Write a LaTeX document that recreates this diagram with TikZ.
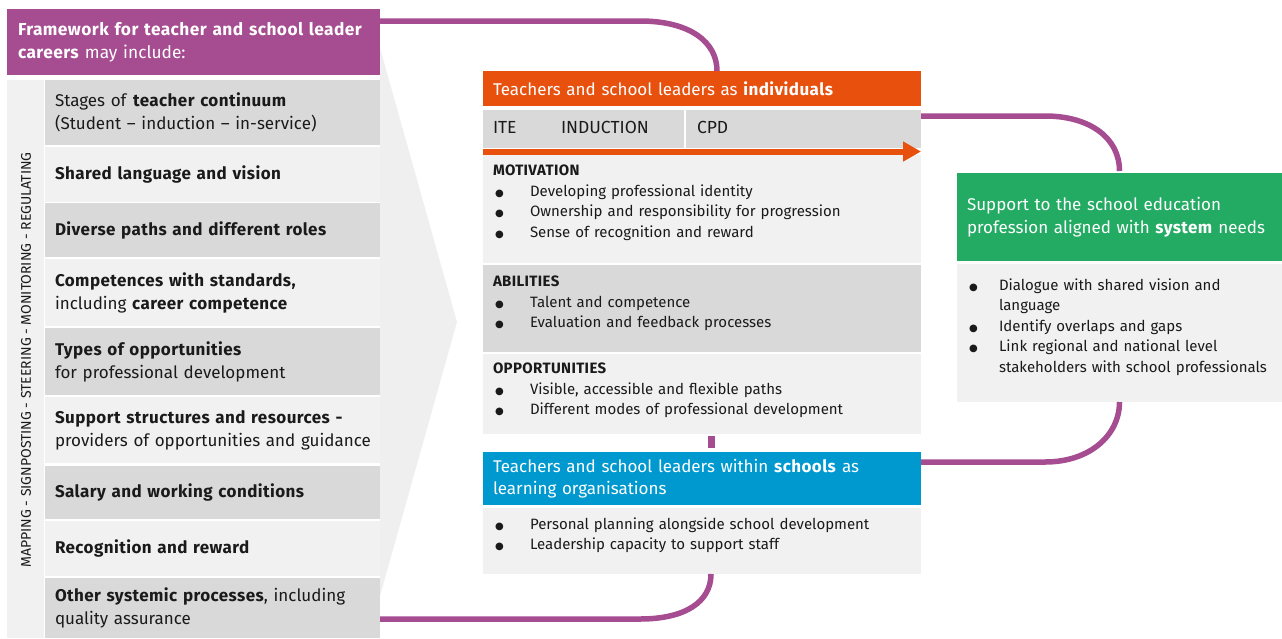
\documentclass[tikz,border=0pt]{standalone}
\usepackage{fontspec}
\setmainfont{Fira Sans}[BoldFeatures={LetterSpace=2.5}]
\newfontfamily\dejavu{DejaVu Sans}
\usetikzlibrary{calc,arrows.meta}
\definecolor{purp}{HTML}{A64C91}
\definecolor{orng}{HTML}{E8500E}
\definecolor{blu}{HTML}{0099CF}
\definecolor{grn}{HTML}{23AB63}
\definecolor{dgray}{HTML}{D9D9D9}
\definecolor{lgray}{HTML}{F1F1F1}
\definecolor{wedge}{HTML}{EFEFEF}
\definecolor{ink}{HTML}{1A1A1A}
\newcommand\fsz[2]{\fontsize{#1}{#2}\selectfont}
\newcommand\bigbul{{\dejavu\fontsize{10}{10}\selectfont ●}}
\newcommand\bul{\makebox[35pt][l]{\bigbul}}
\newcommand\gbul{\makebox[30pt][l]{\bigbul}}
\begin{document}
\begin{tikzpicture}[x=1pt,y=-1pt,
  box/.style={anchor=north west, inner sep=0pt, outer sep=0pt},
  row/.style={box, minimum width=335pt, text width=315pt, inner xsep=10pt, align=left, font=\fsz{17}{23}, text=ink},
  panel/.style={box, minimum width=438pt},
  hdrtext/.style={text width=418pt, inner xsep=10pt, align=left, text=white, font=\fsz{17}{22}},
  txt/.style={anchor=base west, inner sep=0pt, outer sep=0pt, text width=420pt, align=left, text=ink, font=\fsz{15}{20.5}},
  ttl/.style={txt, font=\fsz{15}{20.5}\bfseries},
  conn/.style={draw=purp, line width=5.5pt}]
\useasboundingbox (0,0) rectangle (1282,638);

% background wedge and label column
\fill[wedge] (380,48) -- (457,322) -- (380,596) -- cycle;
\fill[lgray] (7,80) rectangle (44,638);
\node[rotate=90, inner sep=0pt, font=\fsz{14}{16}, text=ink] (vlab) at (26,360) {MAPPING - SIGNPOSTING - STEERING - MONITORING - REGULATING};

% left header
\node[box, fill=purp, minimum width=373pt, minimum height=66pt, text width=351pt, inner xsep=11pt, align=left, text=white, font=\fsz{17.3}{23}] (hdr) at (7,9)
  {\textbf{Framework for teacher and school leader}\\\textbf{careers} may include:};

% left rows
\node[row, fill=dgray, minimum height=65pt] (r1) at (45,80) {Stages of \textbf{teacher continuum}\\(Student – induction – in-service)};
\node[row, fill=lgray, minimum height=55pt] (r2) at (45,147) {\textbf{Shared language and vision}};
\node[row, fill=dgray, minimum height=54pt] (r3) at (45,203) {\textbf{Diverse paths and different roles}};
\node[row, fill=lgray, minimum height=67pt] (r4) at (45,259) {\textbf{Competences with standards,}\\including \textbf{career competence}};
\node[row, fill=dgray, minimum height=67pt] (r5) at (45,328) {\textbf{Types of opportunities}\\for professional development};
\node[row, fill=lgray, minimum height=66pt] (r6) at (45,397) {\textbf{Support structures and resources -}\\\mbox{providers of opportunities and guidance}};
\node[row, fill=dgray, minimum height=53pt] (r7) at (45,466) {\textbf{Salary and working conditions}};
\node[row, fill=lgray, minimum height=55pt] (r8) at (45,521) {\textbf{Recognition and reward}};
\node[row, fill=dgray, minimum height=60pt] (r9) at (45,578) {\textbf{Other systemic processes}, including\\quality assurance};

% middle column
\node[panel, fill=orng, minimum height=35pt, hdrtext] (indiv) at (483,71) {Teachers and school leaders as \textbf{individuals}};
\node[panel, fill=dgray, minimum height=38pt] (stages) at (483,110) {};
\draw[white, line width=2pt] ($(stages.north west)+(202,0)$) -- ($(stages.south west)+(202,0)$);
\node[txt, text width=60pt, font=\fsz{17.5}{20}] (ite) at (493,133) {ITE};
\node[txt, text width=100pt, font=\fsz{17.5}{20}] (ind) at (561,133) {INDUCTION};
\node[txt, text width=60pt, font=\fsz{17.5}{20}] (cpd) at (697,133) {CPD};

\node[panel, fill=lgray, minimum height=108pt] (motiv) at (483,155) {};
\draw[orng, line width=6pt, -{Triangle[length=18pt,width=19pt]}] ($(stages.south west)+(0,3.5)$) -- ($(stages.south east)+(0,3.5)$);
\node[ttl] (motT) at (493,175) {MOTIVATION};
\node[txt] (motB) at (495,196) {\bul Developing professional identity\\\bul Ownership and responsibility for progression\\\bul Sense of recognition and reward};

\node[panel, fill=dgray, minimum height=87pt] (abil) at (483,265) {};
\node[ttl] (abT) at (493,286) {ABILITIES};
\node[txt] (abB) at (495,307) {\bul Talent and competence\\\bul Evaluation and feedback processes};

\node[panel, fill=lgray, minimum height=80pt] (opp) at (483,354) {};
\node[ttl] (opT) at (493,373) {OPPORTUNITIES};
\node[txt] (opB) at (495,394) {\bul Visible, accessible and flexible paths\\\bul Different modes of professional development};

\node[panel, fill=blu, minimum height=53pt, hdrtext] (schhdr) at (483,452) {Teachers and school leaders within \textbf{schools} as\\learning organisations};
\node[panel, fill=lgray, minimum height=66pt] (schbody) at (483,508) {};
\node[txt] (schB) at (495,529) {\bul Personal planning alongside school development\\\bul Leadership capacity to support staff};

% right column
\node[box, fill=grn, minimum width=325pt, minimum height=88pt, text width=305pt, inner xsep=10pt, align=left, text=white, font=\fsz{17}{23}] (sys) at (957,173)
  {Support to the school education\\profession aligned with \textbf{system} needs};
\node[box, fill=lgray, minimum width=325pt, minimum height=138pt] (sysbody) at (957,264) {};
\node[txt, text width=310pt] (sysB) at (969,290) {\gbul Dialogue with shared vision and\\\makebox[30pt]{}language\\\gbul Identify overlaps and gaps\\\gbul Link regional and national level\\\makebox[30pt]{}stakeholders with school professionals};

% connectors
\draw[conn] ($(hdr.north east)+(0,12)$) -- (640,21) .. controls (690,21) and (717,42) .. ($(indiv.north)+(15,0)$);
\draw[purp, line width=7pt] ($(opp.south)+(9,2)$) -- ($(schhdr.north)+(9,-4)$);
\draw[conn] ($(schbody.south)+(9,0)$) .. controls (711,602) and (685,619) .. (640,619) -- ($(r9.north east)+(0,41)$);
\draw[conn] ($(stages.north east)+(0,6)$) -- (1045,116) .. controls (1090,116) and (1119.5,138) .. ($(sys.north)+(0,-2)$);
\draw[conn] (sysbody.south) .. controls (1119.5,435) and (1090,462) .. (1045,462) -- ($(schhdr.north east)+(0,10)$);
\end{tikzpicture}
\end{document}
